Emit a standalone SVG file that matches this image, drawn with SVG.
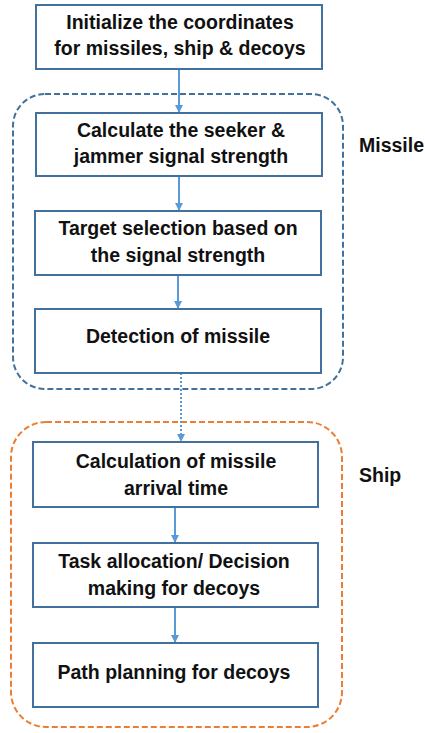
<svg xmlns="http://www.w3.org/2000/svg" width="425" height="733" viewBox="0 0 425 733">
<defs>
<style>
.box{fill:#fff;stroke:#41719C;stroke-width:2}
.t{font-family:"Liberation Sans",Arial,sans-serif;font-weight:bold;font-size:19.5px;fill:#111;text-anchor:middle}
.lbl{font-family:"Liberation Sans",Arial,sans-serif;font-weight:bold;font-size:19.5px;fill:#111}
.con{fill:none;stroke:#5B9BD5;stroke-width:2}
.grp{fill:none;stroke-width:2;stroke-dasharray:6 3}
</style>
<marker id="ah" viewBox="0 0 10 10" refX="10" refY="5" markerWidth="8" markerHeight="8" markerUnits="userSpaceOnUse" orient="auto">
<path d="M0,0 L10,5 L0,10 z" fill="#5B9BD5"/>
</marker>
</defs>
<rect width="425" height="733" fill="#fff"/>
<g id="missile-group">
<rect class="grp" x="13" y="94" width="330" height="295" rx="32" stroke="#41719C"/>
<text class="lbl" x="359" y="152">Missile</text>
</g>
<g id="ship-group">
<rect class="grp" x="11" y="422" width="331" height="305" rx="35" stroke="#ED7D31"/>
<text class="lbl" x="359" y="482">Ship</text>
</g>
<g id="connectors">
<line class="con" x1="179" y1="69" x2="179" y2="113" marker-end="url(#ah)"/>
<line class="con" x1="179" y1="176" x2="179" y2="211" marker-end="url(#ah)"/>
<line class="con" x1="178" y1="275" x2="178" y2="309" marker-end="url(#ah)"/>
<line class="con" x1="181" y1="373" x2="181" y2="442" stroke-dasharray="2 2" marker-end="url(#ah)"/>
<line class="con" x1="175" y1="507" x2="175" y2="543" marker-end="url(#ah)"/>
<line class="con" x1="175" y1="607" x2="175" y2="643" marker-end="url(#ah)"/>
</g>
<g id="n1">
<rect class="box" x="36" y="5" width="286" height="64"/>
<text class="t" x="180" y="29">Initialize the coordinates</text>
<text class="t" x="180" y="55">for missiles, ship &amp; decoys</text>
</g>
<g id="n2">
<rect class="box" x="36" y="113" width="286" height="63"/>
<text class="t" x="181" y="137">Calculate the seeker &amp;</text>
<text class="t" x="181" y="163">jammer signal strength</text>
</g>
<g id="n3">
<rect class="box" x="35" y="211" width="286" height="64"/>
<text class="t" x="178" y="235">Target selection based on</text>
<text class="t" x="178" y="262">the signal strength</text>
</g>
<g id="n4">
<rect class="box" x="35" y="309" width="286" height="64"/>
<text class="t" x="178" y="343">Detection of missile</text>
</g>
<g id="n5">
<rect class="box" x="33" y="442" width="285" height="65"/>
<text class="t" x="176" y="468">Calculation of missile</text>
<text class="t" x="176" y="495">arrival time</text>
</g>
<g id="n6">
<rect class="box" x="33" y="543" width="285" height="64"/>
<text class="t" x="174" y="568">Task allocation/ Decision</text>
<text class="t" x="174" y="595">making for decoys</text>
</g>
<g id="n7">
<rect class="box" x="33" y="643" width="285" height="64"/>
<text class="t" x="174" y="679">Path planning for decoys</text>
</g>
</svg>
